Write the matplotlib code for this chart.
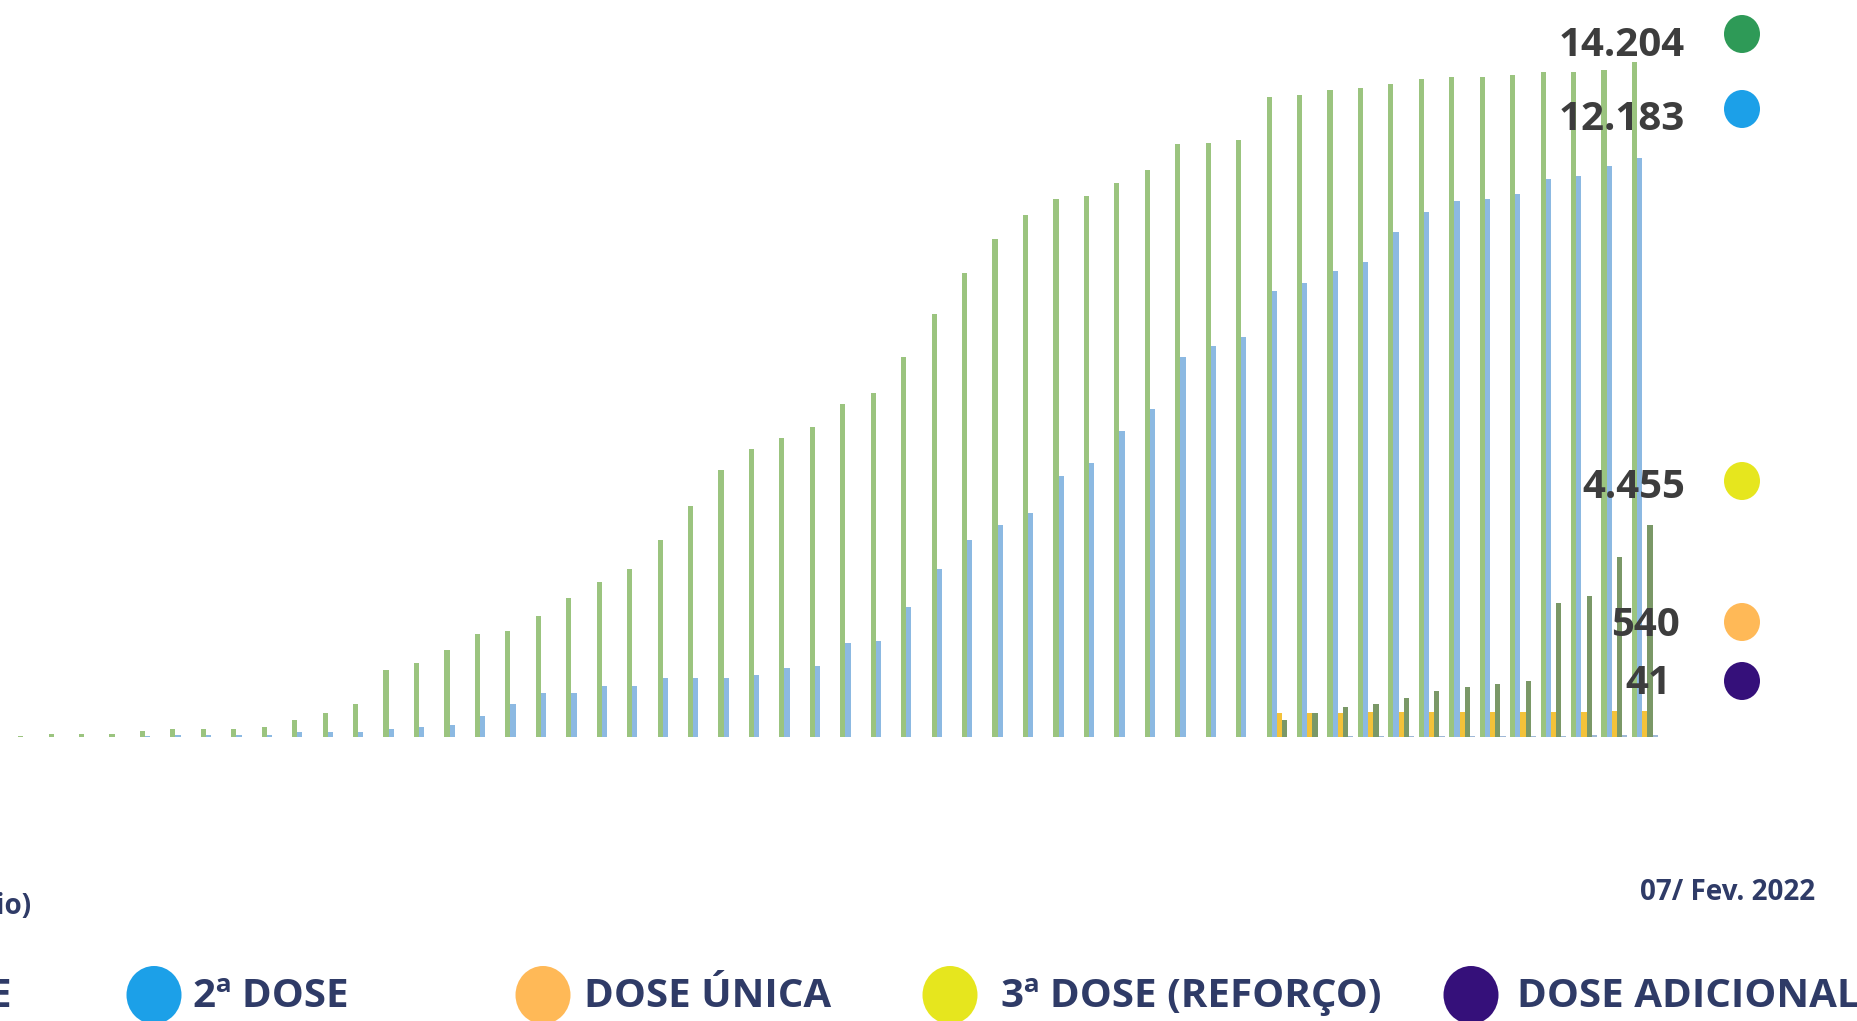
import matplotlib.pyplot as plt
from matplotlib.patches import Ellipse
import numpy as np

# Doses aplicadas (acumulado) - uma barra por semana
dose1 = [20, 70, 70, 70, 120, 170, 170, 170, 220, 350, 500, 690, 1400, 1550, 1830, 2170, 2220, 2540, 2920, 3250,
         3530, 4150, 4860, 5620, 6050, 6290, 6520, 7000, 7230, 8000, 8900, 9750, 10470, 10980, 11320, 11370, 11650,
         11930, 12470, 12500, 12550, 13450, 13500, 13600, 13650, 13730, 13840, 13880, 13880, 13930, 13980, 13980,
         14020, 14204]
dose2 = [0, 0, 0, 0, 20, 50, 50, 50, 50, 100, 100, 100, 170, 200, 250, 450, 690, 930, 930, 1070,
         1070, 1250, 1250, 1250, 1300, 1450, 1500, 1970, 2020, 2730, 3530, 4150, 4450, 4720, 5480, 5770, 6430,
         6900, 8000, 8230, 8420, 9380, 9550, 9800, 10000, 10620, 11040, 11280, 11320, 11420, 11740, 11800,
         12000, 12183]
dose_unica = [0] * 41 + [505, 510, 515, 518, 520, 523, 525, 528, 530, 533, 535, 538, 540]
dose3 = [0] * 41 + [350, 500, 630, 690, 830, 970, 1060, 1120, 1170, 2820, 2970, 3780, 4455]
dose_adic = [0] * 41 + [8, 10, 12, 14, 16, 18, 21, 24, 27, 30, 33, 37, 41]

legend_labels = ['1ª DOSE', '2ª DOSE', 'DOSE ÚNICA', '3ª DOSE (REFORÇO)', 'DOSE ADICIONAL']
legend_colors = ['#2e9a57', '#1ca0e8', '#ffb957', '#e6e61e', '#35107a']
bar_colors = ['#9bc47f', '#8cb9e2', '#f4c23a', '#7a9867', '#9fb8d6']
data_date = '07/ Fev. 2022'

W, H = 1858, 1021
navy = '#2f3b67'


def fx(x):
    return x / W


def fy(y):
    return 1 - y / H


fig = plt.figure(figsize=(W / 100, H / 100), dpi=100)
ax = fig.add_axes([0, fy(737), 1, 737 / H])

series = [dose1, dose2, dose_unica, dose3, dose_adic]
x = np.arange(len(dose1))
w = 0.17
for i, (vals, c) in enumerate(zip(series, bar_colors)):
    ax.bar(x - 0.425 + i * w, vals, width=w, align='edge', color=c, linewidth=0)

ax.set_xlim(-1.018, 60.0)
ax.set_ylim(0, 15500)
ax.axis('off')

# valores finais + marcadores a direita
lab_y = [45, 119, 487, 625, 684]
lab_x = [1685, 1685, 1685, 1680, 1671]
circ_y = [34, 109, 481, 622, 681]
finals = [dose1[-1], dose2[-1], dose3[-1], dose_unica[-1], dose_adic[-1]]
fcols = [legend_colors[0], legend_colors[1], legend_colors[3], legend_colors[2], legend_colors[4]]
for v, lx, ly, cy, c in zip(finals, lab_x, lab_y, circ_y, fcols):
    fig.text(fx(lx), fy(ly), f'{v:,}'.replace(',', '.'), ha='right', va='center',
             fontsize=29, fontweight='bold', color='#3d3d3d', family=['Open Sans', 'DejaVu Sans'])
    fig.patches.append(Ellipse((fx(1742), fy(cy)), 36 / W, 38 / H, transform=fig.transFigure,
                               facecolor=c, edgecolor='none'))

fig.text(fx(31), fy(906), '(em milhares / Município)', ha='right', va='center', fontsize=20,
         fontweight='bold', color=navy, family=['Open Sans', 'DejaVu Sans'])
fig.text(fx(1815), fy(893), data_date, ha='right', va='center', fontsize=20,
         fontweight='bold', color=navy, family=['Open Sans', 'DejaVu Sans'])

# legenda inferior
leg_cx = [-250, 154, 543, 950, 1471]
leg_tx = [12, 193, 584, 1001, 1517]
for i, (lab, c, cx, tx) in enumerate(zip(legend_labels, legend_colors, leg_cx, leg_tx)):
    fig.patches.append(Ellipse((fx(cx), fy(995)), 55 / W, 58 / H, transform=fig.transFigure,
                               facecolor=c, edgecolor='none'))
    # 1ª dose: so a ponta do texto aparece na borda esquerda
    ha = 'right' if i == 0 else 'left'
    fig.text(fx(tx), fy(996), lab, ha=ha, va='center', fontsize=29,
             fontweight='bold', color=navy, family=['Open Sans', 'DejaVu Sans'])

fig.savefig('out.png', dpi=100)
